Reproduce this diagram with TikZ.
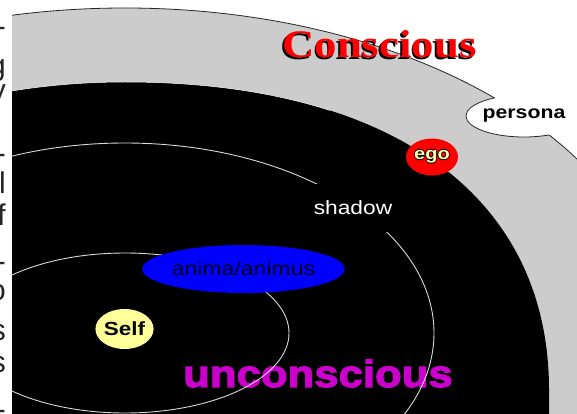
\documentclass[tikz,border=0pt]{standalone}
\usepackage{fontspec}
\setmainfont{Liberation Sans}
\newfontfamily\lblfont[FakeStretch=1.18]{Liberation Sans}
\newfontfamily\serifwide[FakeStretch=1.15]{Liberation Serif}
\newfontfamily\uncfont[FakeStretch=1.15,BoldFeatures={FakeBold=3}]{Liberation Sans}
\usetikzlibrary{shapes.geometric}
\definecolor{cgray}{RGB}{204,204,204}
\definecolor{cmag}{RGB}{204,0,204}
\definecolor{cself}{RGB}{255,255,153}
\definecolor{cegotxt}{RGB}{255,255,170}
\definecolor{canimtxt}{RGB}{0,0,20}
% text with a dark outline (ego) and with a dark shadow (Conscious)
\newcommand\outlinedword[2]{\leavevmode
  \rlap{\kern-0.9pt\textcolor{black}{#2}}\rlap{\kern0.9pt\textcolor{black}{#2}}%
  \rlap{\raisebox{0.9pt}{\textcolor{black}{#2}}}\rlap{\raisebox{-0.9pt}{\textcolor{black}{#2}}}%
  \textcolor{#1}{#2}}
\newcommand\shadowword[2]{\leavevmode
  \rlap{\kern-1.5pt\raisebox{-1.2pt}{\textcolor{black}{#2}}}\textcolor{#1}{#2}}
\begin{document}
\begin{tikzpicture}[x=1pt,y=-1pt,
  lbl/.style={inner sep=0pt, font=\lblfont},
  blob/.style={ellipse, inner sep=0pt},
  ring/.style={draw=white!85!black, line width=0.9pt},
  frag/.style={anchor=base east, inner sep=0pt, text=black!85, font=\fontsize{30}{30}\selectfont}]
\useasboundingbox (0,0) rectangle (577,414);
\fill[white] (0,0) rectangle (577,414);
% cut-off text fragments at the left edge
\begin{scope}
  \clip (0,0) rectangle (11,414);
  \foreach \fc/\yy [count=\i] in {-/37, g/75.6, y/100.6, -/163, l/193, f/225, -/271, o/300, s/340, s/372, -/419}
    \node[frag] (frag\i) at (6,\yy) {\fc};
\end{scope}
\begin{scope}
  \clip (12,0) rectangle (577,414);
  % conscious (gray) region
  \fill[cgray] (125,333) ellipse [x radius=535, y radius=325];
  \draw[black!85, line width=0.8pt] (125,333) ellipse [x radius=535, y radius=325];
  % unconscious (black) region
  \fill[black] (125,82) arc[start angle=-90, end angle=-180, x radius=425, y radius=251]
     -- (-300,430) -- (549,430) -- (549,390) .. controls (549,196) and (392,82) .. (125,82) -- cycle;
  \begin{scope}
    \clip (0,0) rectangle (330,140);
    \draw[white, line width=0.5pt] (549,390) .. controls (549,196) and (392,82) .. (125,82)
       arc[start angle=-90, end angle=-180, x radius=425, y radius=251];
  \end{scope}
  % unconscious label
  \node[anchor=base west, inner sep=0pt, text=cmag, font=\uncfont\bfseries\fontsize{38}{38}\selectfont] (unc) at (183,387) {unconscious};
  % rings
  \draw[ring] (125,333) ellipse [x radius=309, y radius=190];
  \draw[ring] (125,333) ellipse [x radius=164, y radius=80];
  % shadow
  \node[lbl, fill=black, minimum width=86pt, minimum height=48pt, text=white, font=\lblfont\fontsize{19.3}{20}\selectfont] (shadow) at (353,208) {shadow};
  % anima
  \node[blob, fill=blue, minimum width=177pt, minimum height=48pt, text=canimtxt, font=\lblfont\fontsize{19.5}{20}\selectfont] (anima) at (243.5,269) {anima/animus};
  % self
  \node[blob, fill=cself, minimum width=57pt, minimum height=40pt, font=\lblfont\bfseries\fontsize{19}{20}\selectfont] (self) at (124.5,329) {Self};
  % ego
  \node[blob, fill=red, minimum width=52pt, minimum height=37pt, font=\lblfont\bfseries\fontsize{17}{17}\selectfont] (ego) at (432,157) {\outlinedword{cegotxt}{ego}};
  % persona
  \node[blob, fill=white, minimum width=116pt, minimum height=42pt, font=\lblfont\bfseries\fontsize{18}{18}\selectfont] (persona) at (524,116) {persona};
  \begin{scope}
    \clip (125,333) ellipse [x radius=535, y radius=325];
    \draw[black!85, line width=0.8pt] (persona.center) ellipse [x radius=58, y radius=21];
  \end{scope}
  % Conscious
  \node[anchor=base west, inner sep=0pt, font=\serifwide\bfseries\fontsize{39}{39}\selectfont] (consc) at (282,58) {\shadowword{red}{Conscious}};
\end{scope}
\end{tikzpicture}
\end{document}
